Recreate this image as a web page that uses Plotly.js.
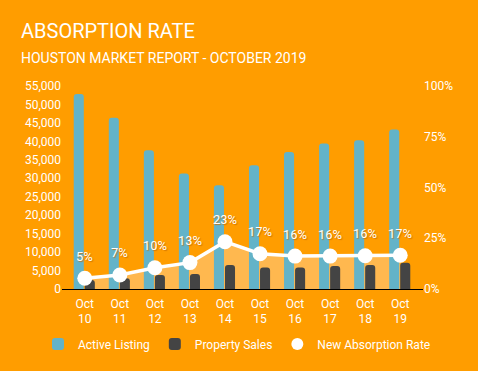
<!DOCTYPE html>
<html>
<head>
<meta charset="utf-8">
<script src="https://cdn.plot.ly/plotly-3.0.1.min.js"></script>
<style>
html,body{margin:0;padding:0;background:#FF9D00;}
#chart{width:478px;height:371px;}
</style>
</head>
<body>
<div id="chart"></div>
<script>
const categories = ['Oct<br>10','Oct<br>11','Oct<br>12','Oct<br>13','Oct<br>14','Oct<br>15','Oct<br>16','Oct<br>17','Oct<br>18','Oct<br>19'];
const activeListing = [52800, 46400, 37600, 31300, 28100, 33500, 37100, 39400, 40300, 43200];
const propertySales = [2450, 2900, 3800, 4050, 6500, 5850, 5850, 6200, 6500, 7100];
const absorptionRate = [5.3, 6.9, 10.5, 13.0, 23.3, 17.4, 16.2, 16.2, 16.4, 16.6];
const rateLabels = ['5%','7%','10%','13%','23%','17%','16%','16%','16%','17%'];
const rateTicks = [0, 25, 50, 75, 100];
const rateTickText = ['0%', '25%', '50%', '75%', '100%'];

const BG = '#FF9D00';
const FILL = '#FFB84F';
const BLUE = '#63B3C8';
const DARK = '#444444';
const FONT = 'Roboto, "Open Sans", sans-serif';

const traces = [
  {x: categories, y: absorptionRate, yaxis: 'y', type: 'scatter', mode: 'none',
   fill: 'tozeroy', fillcolor: FILL, showlegend: false, hoverinfo: 'skip'},
  {x: categories, y: activeListing, yaxis: 'y2', type: 'bar', name: 'Active Listing',
   marker: {color: BLUE, cornerradius: 3}, offset: -0.315, width: 0.287, legendrank: 1},
  {x: categories, y: propertySales, yaxis: 'y2', type: 'bar', name: 'Property Sales',
   marker: {color: DARK, cornerradius: 3}, offset: 0.0, width: 0.287, legendrank: 2},
  {x: categories, y: absorptionRate, yaxis: 'y3', type: 'scatter', mode: 'lines+markers',
   line: {color: 'white', width: 3.5}, marker: {color: 'white', size: 15},
   showlegend: false},
  {x: [null], y: [null], yaxis: 'y3', type: 'scatter', mode: 'markers', name: 'New Absorption Rate',
   marker: {color: 'white', size: 12}, legendrank: 3}
];

const annotations = [
  {text: 'ABSORPTION RATE', xref: 'paper', yref: 'paper', x: (19-62)/361, y: 1 + (86-31)/203,
   xanchor: 'left', yanchor: 'middle', showarrow: false, font: {family: FONT, size: 20, color: 'white'}},
  {text: 'HOUSTON MARKET REPORT - OCTOBER 2019', xref: 'paper', yref: 'paper', x: (19-62)/361, y: 1 + (86-58)/203,
   xanchor: 'left', yanchor: 'middle', showarrow: false, font: {family: FONT, size: 14, color: 'white'}}
];
absorptionRate.forEach((v, i) => {
  annotations.push({text: rateLabels[i], xref: 'x', yref: 'y3', x: i, y: v, yshift: 22,
    showarrow: false, xanchor: 'center', yanchor: 'middle',
    font: {family: FONT, size: 13, color: 'white', shadow: '1px 1px 1px rgba(200,110,0,0.8)'}});
});

const layout = {
  width: 478, height: 371,
  paper_bgcolor: BG, plot_bgcolor: BG,
  margin: {l: 62, r: 55, t: 86, b: 82, autoexpand: false},
  font: {family: FONT, size: 12, color: 'white'},
  showlegend: true,
  legend: {orientation: 'h', x: (38-62)/361, xanchor: 'left',
           y: -(344-289)/203, yanchor: 'middle',
           font: {family: FONT, size: 12, color: 'white'}, traceorder: 'normal'},
  barmode: 'group',
  xaxis: {type: 'category', range: [-0.65, 9.65], showline: true, linecolor: 'black', linewidth: 1.2,
          showgrid: false, zeroline: false, ticks: '', ticklabelstandoff: 3,
          tickfont: {size: 12, color: 'white'}, fixedrange: true},
  yaxis: {side: 'right', range: [0, 100], tickmode: 'array', tickvals: rateTicks, ticktext: rateTickText,
          showgrid: false, zeroline: false, showline: false, tickfont: {size: 12, color: 'white'}},
  yaxis2: {overlaying: 'y', side: 'left', range: [0, 55000], dtick: 5000, tickformat: ',d',
           showgrid: false, zeroline: false, showline: false, tickfont: {size: 12, color: 'white'}},
  yaxis3: {overlaying: 'y', range: [0, 100], visible: false},
  annotations: annotations
};

Plotly.newPlot('chart', traces, layout, {displayModeBar: false, staticPlot: true});
</script>
</body>
</html>
